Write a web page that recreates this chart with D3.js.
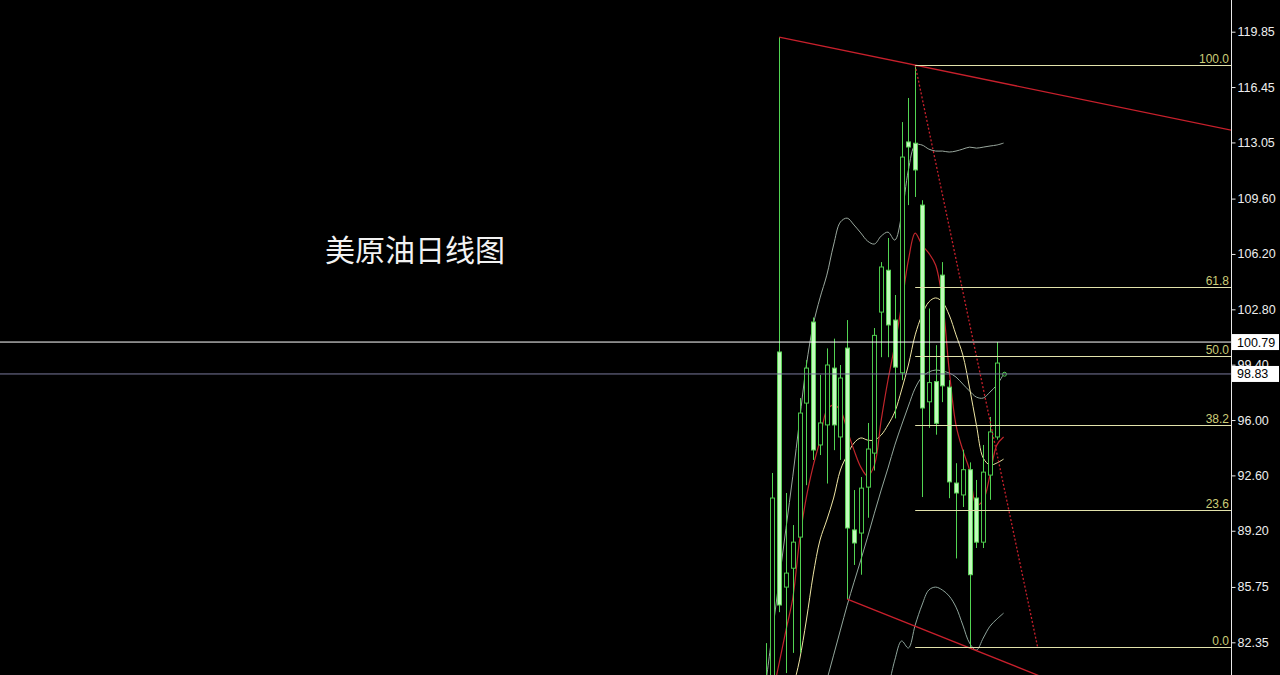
<!DOCTYPE html>
<html><head><meta charset="utf-8">
<script src="https://cdn.jsdelivr.net/npm/d3@7"></script>
<style>html,body{margin:0;padding:0;background:#000;overflow:hidden}</style>
</head><body>
<svg id="chart" width="1280" height="675"></svg>
<script>
// ---------- data ----------
const title = "美原油日线图";
const tickValues = [119.85,116.45,113.05,109.60,106.20,102.80,99.40,96.00,92.60,89.20,85.75,82.35];
const opens  = [79.5,80.0,100.18,85.74,86.9,88.81,97.04,102.02,94.47,95.7,99.19,94.96,100.42,89.25,89.06,91.88,93.97,102.63,105.2,102.14,98.9,113.08,113.0,109.2,97.12,98.36,104.9,98.02,92.13,91.4,92.95,91.21,88.5,92.62,94.96,98.80];
const highs  = [82.3,92.75,119.52,91.52,89.55,97.35,99.68,102.3,98.77,100.4,101.0,99.38,102.14,91.7,92.5,95.82,101.65,105.7,107.18,103.68,114.3,115.78,117.8,109.5,102.85,100.6,105.7,98.45,93.35,94.18,93.4,92.32,94.47,96.19,100.79,98.95];
const lows   = [78.8,79.5,84.2,80.46,81.7,81.7,92.0,93.55,93.85,92.1,94.15,93.55,85.0,87.1,86.5,90.0,92.9,99.86,99.86,96.1,98.45,109.2,109.7,91.27,95.52,95.1,97.1,91.2,87.5,90.66,82.0,88.14,88.14,91.1,94.8,98.75];
const closes = [80.2,91.21,84.64,86.6,88.5,96.43,99.19,94.16,95.82,99.38,95.7,98.58,89.37,88.45,91.82,94.22,101.2,105.4,101.84,99.25,112.15,112.77,111.36,96.74,98.3,95.8,98.1,92.2,91.52,92.95,86.5,88.5,92.8,95.27,99.5,98.83];
const maRed   = [77.15,79.1,81.08,83.1,85.07,88.63,91.27,93.18,94.77,96.61,96.92,96.61,95.38,94.15,93.11,92.56,93.23,96.0,98.46,100.6,103.06,105.82,107.48,106.75,106.25,105.52,103.37,99.07,95.69,94.15,92.92,90.77,91.08,92.62,94.46,94.96];
const maCream = [null,null,null,76.83,79.42,81.27,83.72,86.49,88.63,89.86,91.21,92.93,93.85,94.59,94.9,94.77,94.77,95.08,95.7,96.5,97.85,99.38,101.23,102.45,103.25,103.5,103.25,102.45,101.23,100.0,97.97,95.7,93.67,93.24,93.36,93.6];
const bbUpper = [79.72,82.97,86.17,89.36,92.55,95.99,99.38,101.84,103.5,104.9,106.75,108.16,108.4,107.98,107.49,106.99,106.81,107.3,107.54,107.05,108.59,111.35,112.89,112.89,112.64,112.52,112.52,112.46,112.52,112.64,112.76,112.7,112.76,112.83,112.89,113.01];
const bbMiddle = [null,null,null,null,null,null,null,null,78.5,80.02,81.56,83.1,84.63,86.04,87.4,88.81,90.28,91.7,93.05,94.46,95.69,96.86,97.96,98.64,98.95,99.07,99.01,98.89,98.64,98.21,97.78,97.41,97.35,97.72,98.15,98.82];
const bbLower = [null,null,null,null,null,null,null,null,null,null,null,null,null,null,null,null,null,null,79.42,81.26,82.43,82.0,83.41,84.64,85.56,85.74,85.56,85.19,84.51,83.41,82.3,81.87,82.61,83.34,83.77,84.14];
const fibRatios = [100.0, 61.8, 50.0, 38.2, 23.6, 0.0];
const fibAnchorIdx = [22, 40];
const fibAnchorPrice = [117.8, 82.06];
const upperTrendIdx = [2, 22], upperTrendPrice = [119.52, 117.8];
const lowerTrendIdx = [12, 30], lowerTrendPrice = [85.0, 82.0];
const markLevel = 100.79;
const lastPrice = 98.83;

// ---------- setup ----------
const W = 1280, H = 675, axisX = 1231;
const svg = d3.select("#chart");
svg.append("rect").attr("width", W).attr("height", H).attr("fill", "#000");
const x = d3.scaleLinear().domain([0, 35]).range([765.6, 1003.6]);
const y = d3.scaleLinear().domain([82.35, 119.85]).range([642.3, 31.7]);

svg.append("defs").append("clipPath").attr("id", "plot")
  .append("rect").attr("x", 0).attr("y", 0).attr("width", axisX).attr("height", H);
const g = svg.append("g").attr("clip-path", "url(#plot)");

// title
g.append("text").attr("x", 325).attr("y", 261)
  .attr("font-family", "'Noto Sans CJK SC', sans-serif").attr("font-size", 30)
  .attr("fill", "#f2f2f2").text(title);

// ---------- indicators ----------
const idx = d3.range(opens.length);
function series(vals, color, width) {
  const line = d3.line().defined(i => vals[i] != null)
    .x(i => x(i)).y(i => y(vals[i])).curve(d3.curveCatmullRom.alpha(0.5));
  g.append("path").datum(idx).attr("d", line).attr("fill", "none")
    .attr("stroke", color).attr("stroke-width", width);
}
series(bbUpper, "#9aa89e", 1);
series(bbMiddle, "#93a79c", 1);
series(bbLower, "#8fa59c", 1);
series(maCream, "#efe6a4", 1);
series(maRed, "#c2262c", 1.2);

// ---------- candles ----------
const cg = g.append("g");
idx.forEach(i => {
  const cx = Math.round(x(i)) + 0.5;
  const bear = closes[i] < opens[i];
  cg.append("line").attr("x1", cx).attr("x2", cx)
    .attr("y1", y(highs[i])).attr("y2", y(lows[i]))
    .attr("stroke", "#52d452").attr("stroke-width", 1);
  const top = y(Math.max(opens[i], closes[i]));
  const bot = y(Math.min(opens[i], closes[i]));
  let h = bot - top, yy = top, rx = 0;
  if (h < 2) { h = 4; yy = (top + bot) / 2 - 2; rx = 2; }
  cg.append("rect").attr("x", cx - 2).attr("y", yy).attr("width", 4).attr("height", h)
    .attr("rx", rx)
    .attr("fill", bear ? "#c2fbbc" : "#000")
    .attr("stroke", bear ? "#5cd058" : "#4cc84c").attr("stroke-width", 1);
});

// ---------- objects ----------
g.append("line").attr("x1", 0).attr("x2", axisX).attr("y1", y(markLevel)).attr("y2", y(markLevel))
  .attr("stroke", "#ffffff").attr("stroke-width", 1);
g.append("line").attr("x1", 0).attr("x2", axisX).attr("y1", y(lastPrice)).attr("y2", y(lastPrice))
  .attr("stroke", "#7a7a9c").attr("stroke-width", 1);

function ray(ix, pr, color) {
  const slope = (pr[1] - pr[0]) / (ix[1] - ix[0]);
  const endI = x.invert(axisX + 5);
  const endP = pr[0] + slope * (endI - ix[0]);
  g.append("line").attr("x1", x(ix[0])).attr("y1", y(pr[0]))
    .attr("x2", x(endI)).attr("y2", y(endP))
    .attr("stroke", color).attr("stroke-width", 1.3);
}
ray(upperTrendIdx, upperTrendPrice, "#c8202c");
ray(lowerTrendIdx, lowerTrendPrice, "#c8202c");

const fHi = fibAnchorPrice[0], fLo = fibAnchorPrice[1];
g.append("line").attr("x1", x(fibAnchorIdx[0])).attr("y1", y(fHi))
  .attr("x2", x(fibAnchorIdx[1])).attr("y2", y(fLo))
  .attr("stroke", "#c8202c").attr("stroke-width", 1.3).attr("stroke-dasharray", "2,2");
fibRatios.forEach(r => {
  const p = fLo + (fHi - fLo) * r / 100;
  const yy = Math.round(y(p)) + 0.5;
  g.append("line").attr("x1", x(fibAnchorIdx[0])).attr("x2", axisX)
    .attr("y1", yy).attr("y2", yy).attr("stroke", "#e2e2ac").attr("stroke-width", 1);
  g.append("text").attr("x", axisX - 2).attr("y", yy - 3).attr("text-anchor", "end")
    .attr("font-family", "'Liberation Sans', Arial, sans-serif").attr("font-size", 12)
    .attr("fill", "#cccc78").text(r.toFixed(1));
});

// ---------- axis ----------
svg.append("line").attr("x1", axisX + 0.5).attr("x2", axisX + 0.5).attr("y1", 0).attr("y2", H)
  .attr("stroke", "#e8e8e8").attr("stroke-width", 1);
const axis = d3.axisRight(y).tickValues(tickValues).tickFormat(d => d.toFixed(2)).tickSize(4).tickPadding(2);
const ag = svg.append("g").attr("transform", `translate(${axisX + 0.5},0)`).call(axis);
ag.select(".domain").remove();
ag.selectAll(".tick line").attr("stroke", "#e8e8e8");
ag.selectAll(".tick text").attr("fill", "#eeeeee")
  .attr("font-family", "'Liberation Sans', Arial, sans-serif").attr("font-size", 12.5);

[markLevel, lastPrice].forEach(v => {
  const yy = y(v);
  svg.append("rect").attr("x", axisX + 1).attr("y", yy - 8).attr("width", 47).attr("height", 16)
    .attr("fill", "#ffffff");
  svg.append("text").attr("x", axisX + 6).attr("y", yy + 4.5)
    .attr("font-family", "'Liberation Sans', Arial, sans-serif").attr("font-size", 12.5)
    .attr("fill", "#000").text(v.toFixed(2));
});
</script>
</body></html>
